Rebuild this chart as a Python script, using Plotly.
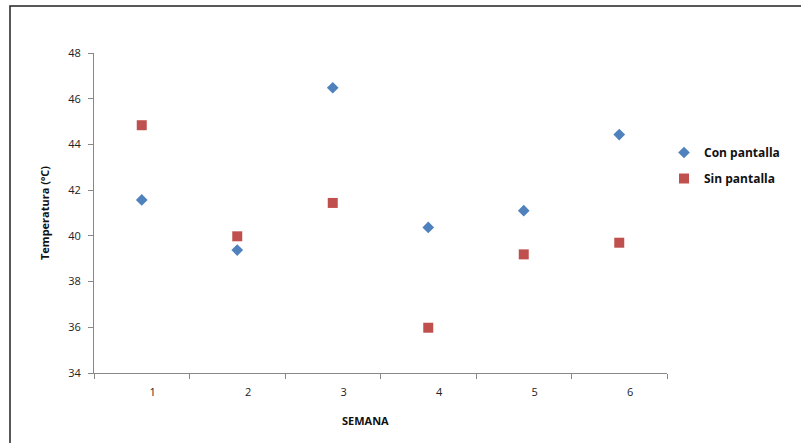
import plotly.graph_objects as go

semanas = [1, 2, 3, 4, 5, 6]
semana_labels = ["1", "2", "3", "4", "5", "6"]
con_pantalla = [41.57, 39.38, 46.48, 40.37, 41.10, 44.43]
sin_pantalla = [44.84, 39.98, 41.44, 35.98, 39.19, 39.70]
y_ticks = [34, 36, 38, 40, 42, 44, 46, 48]

W, H = 801, 443
L, R, T, B = 94, 801 - 667, 53, 443 - 373
pw, ph = W - L - R, H - T - B

def px(x):
    return (x - L) / pw

def py(y):
    return (H - B - y) / ph

fig = go.Figure()
fig.add_trace(go.Scatter(
    x=semanas, y=con_pantalla, mode="markers", name="Con pantalla", legendgroup="a",
    marker=dict(symbol="diamond", size=9, color="#4F81BD"),
))
fig.add_trace(go.Scatter(
    x=semanas, y=sin_pantalla, mode="markers", name="Sin pantalla", legendgroup="b",
    marker=dict(symbol="square", size=10, color="#C0504D"),
))

font_main = "'Open Sans', 'Liberation Sans', Arial, sans-serif"

fig.update_layout(
    width=W, height=H,
    margin=dict(l=L, r=R, t=T, b=B),
    paper_bgcolor="white", plot_bgcolor="white",
    font=dict(family=font_main, size=11, color="#222222"),
    showlegend=True,
    legend=dict(
        x=px(664), y=py(138), xanchor="left", yanchor="top",
        font=dict(size=12, color="#111111", family=font_main, weight="bold"),
        itemwidth=30, tracegroupgap=7, bgcolor="rgba(0,0,0,0)",
    ),
    xaxis=dict(
        range=[0.5, 6.5], tickvals=semanas, ticktext=semana_labels,
        ticks="", showgrid=False, zeroline=False,
        showline=True, linecolor="#888888", linewidth=1,
        ticklabelshift=11, ticklabelstandoff=9,
        tickfont=dict(size=11, color="#222222"),
        minor=dict(tickvals=[0.5, 1.5, 2.5, 3.5, 4.5, 5.5, 6.5],
                   ticks="outside", ticklen=5, tickcolor="#888888", showgrid=False),
    ),
    yaxis=dict(
        range=[34, 48], tickvals=y_ticks, ticktext=[str(v) for v in y_ticks],
        ticks="outside", ticklen=5, tickcolor="#888888",
        showgrid=False, zeroline=False,
        showline=True, linecolor="#888888", linewidth=1,
        ticklabelstandoff=5,
        tickfont=dict(size=11, color="#222222"),
        title=dict(text="<b>Temperatura (ºC)</b>", font=dict(size=11, color="#111111"),
                   standoff=16),
    ),
    shapes=[dict(
        type="rect", xref="paper", yref="paper",
        x0=px(10), x1=px(W + 20), y0=py(H + 20), y1=py(6),
        line=dict(color="#222222", width=1.5), fillcolor="rgba(0,0,0,0)", layer="below",
    )],
    annotations=[dict(
        text="<b>SEMANA</b>", xref="paper", yref="paper",
        x=px(365), y=py(420), xanchor="center", yanchor="middle",
        showarrow=False, font=dict(size=11, color="#111111"),
    )],
)

fig.write_html("out.html")
